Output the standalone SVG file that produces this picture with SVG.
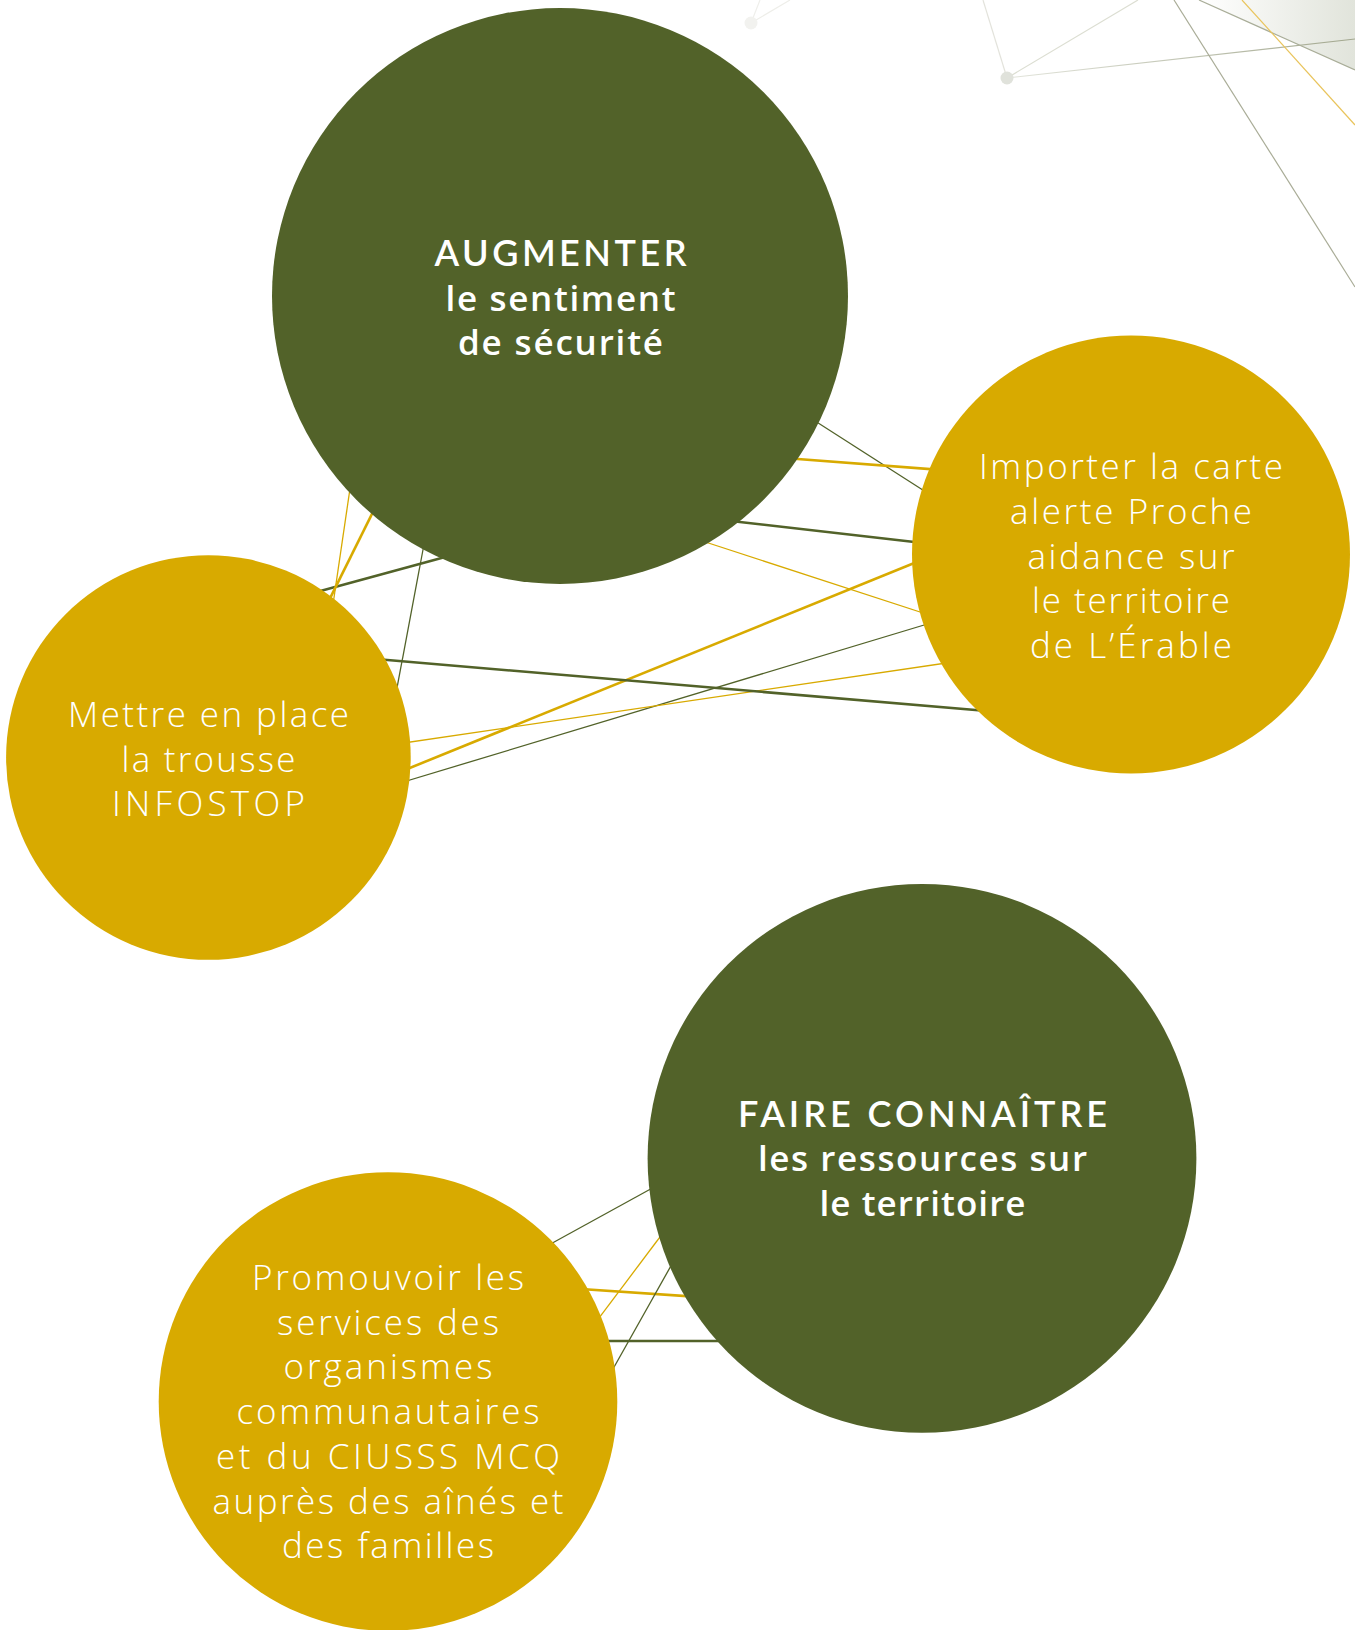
<svg xmlns="http://www.w3.org/2000/svg" width="1355" height="1630" viewBox="0 0 1355 1630">
  <defs>
    <linearGradient id="shade" x1="1199" y1="0" x2="1355" y2="0" gradientUnits="userSpaceOnUse">
      <stop offset="0" stop-color="#ffffff"/>
      <stop offset="1" stop-color="#e1e4db"/>
    </linearGradient>
    <linearGradient id="fadeLine" x1="1007" y1="0" x2="1355" y2="0" gradientUnits="userSpaceOnUse">
      <stop offset="0" stop-color="#e3e5dc"/>
      <stop offset="1" stop-color="#a2a78e"/>
    </linearGradient>
  </defs>
  <style>
    .green { fill: #526229; }
    .gold { fill: #d8aa00; }
    .dk { stroke: #526229; fill: none; }
    .gd { stroke: #d8aa00; fill: none; }
    .thick { stroke-width: 2.6; }
    .thin { stroke-width: 1.3; }
    .title { font-family: "Open Sans", Lato, "Liberation Sans", sans-serif; font-size: 35px; fill: #ffffff; text-anchor: middle; }
    .caps { font-family: Lato, "Open Sans", "Liberation Sans", sans-serif; font-weight: 600; font-size: 36px; }
    .bold { font-weight: 600; }
    .light { font-family: "Open Sans", Lato, "Liberation Sans", sans-serif; font-weight: 300; font-size: 35px; fill: #ffffff; text-anchor: middle; }
    .deco { fill: none; stroke-width: 1.2; }
  </style>

  <g id="decoration">
    <polygon points="1199,0 1355,0 1355,70" fill="url(#shade)"/>
    <line x1="1199" y1="0" x2="1355" y2="70" class="deco" stroke="#a9ad98"/>
    <line x1="751" y1="23" x2="760" y2="0" class="deco" stroke="#efefeb"/>
    <line x1="751" y1="23" x2="790" y2="0" class="deco" stroke="#eeeee9"/>
    <circle cx="751" cy="23" r="6.5" fill="#f2f2ef"/>
    <line x1="1007" y1="78" x2="983" y2="0" class="deco" stroke="#e3e3dc"/>
    <line x1="1007" y1="78" x2="1138" y2="0" class="deco" stroke="#dcded2"/>
    <line x1="1007" y1="78" x2="1355" y2="39" class="deco" stroke="url(#fadeLine)" stroke-width="1.5"/>
    <circle cx="1007" cy="78" r="6.5" fill="#e0e2db"/>
    <line x1="1174" y1="0" x2="1355" y2="287" class="deco" stroke="#a9ac97" stroke-width="1.3"/>
    <line x1="1242" y1="0" x2="1355" y2="125" class="deco" stroke="#e9c45c"/>
  </g>

  <g id="connectors">
    <line x1="801" y1="412" x2="940" y2="501" class="dk thin"/>
    <line x1="778" y1="457.5" x2="950" y2="470.6" class="gd thick"/>
    <line x1="720" y1="519.7" x2="934" y2="544.3" class="dk thick"/>
    <line x1="690" y1="537" x2="940" y2="618.5" class="gd thin"/>
    <line x1="934" y1="555" x2="390" y2="776" class="gd thick"/>
    <line x1="944" y1="619" x2="390" y2="786" class="dk thin"/>
    <line x1="960" y1="661" x2="390" y2="745" class="gd thin"/>
    <line x1="367" y1="658.3" x2="996" y2="711.7" class="dk thick"/>
    <line x1="302" y1="596" x2="458" y2="553.6" class="dk thick"/>
    <line x1="352" y1="475" x2="330.7" y2="620" class="gd thin"/>
    <line x1="380.4" y1="497" x2="326.9" y2="604.6" class="gd thick"/>
    <line x1="426.7" y1="530" x2="393.3" y2="707.7" class="dk thin"/>
    <line x1="536" y1="1252" x2="667" y2="1180" class="dk thin"/>
    <line x1="566" y1="1288" x2="705" y2="1297.4" class="gd thick"/>
    <line x1="588" y1="1332.7" x2="672" y2="1221" class="gd thin"/>
    <line x1="586" y1="1341" x2="740" y2="1341" class="dk thick"/>
    <line x1="604" y1="1385" x2="681" y2="1248" class="dk thin"/>
  </g>

  <g id="node-augmenter">
    <circle cx="560" cy="296" r="288" class="green"/>
    <text class="title caps" x="560.5" y="266" textLength="252" lengthAdjust="spacing">AUGMENTER</text>
    <text class="title bold" x="560.5" y="310.7" textLength="230" lengthAdjust="spacing">le sentiment</text>
    <text class="title bold" x="560.5" y="355.4" textLength="205" lengthAdjust="spacing">de sécurité</text>
  </g>

  <g id="node-importer">
    <circle cx="1131" cy="554.5" r="219" class="gold"/>
    <text class="light" x="1131" y="479.3" textLength="304" lengthAdjust="spacing">Importer la carte</text>
    <text class="light" x="1131" y="524" textLength="242" lengthAdjust="spacing">alerte Proche</text>
    <text class="light" x="1131" y="568.7" textLength="207" lengthAdjust="spacing">aidance sur</text>
    <text class="light" x="1131" y="613.4" textLength="198" lengthAdjust="spacing">le territoire</text>
    <text class="light" x="1131" y="658.1" textLength="202" lengthAdjust="spacing">de L’Érable</text>
  </g>

  <g id="node-infostop">
    <circle cx="208.4" cy="757.5" r="202.3" class="gold"/>
    <text class="light" x="208.5" y="727" textLength="281" lengthAdjust="spacing">Mettre en place</text>
    <text class="light" x="208.5" y="771.7" textLength="174" lengthAdjust="spacing">la trousse</text>
    <text class="light" x="208.5" y="816.4" textLength="193" lengthAdjust="spacing">INFOSTOP</text>
  </g>

  <g id="node-faire">
    <circle cx="922" cy="1158.4" r="274.4" class="green"/>
    <text class="title caps" x="922.5" y="1126.5" textLength="369" lengthAdjust="spacing">FAIRE CONNAÎTRE</text>
    <text class="title bold" x="922.5" y="1171.2" textLength="329" lengthAdjust="spacing">les ressources sur</text>
    <text class="title bold" x="922.5" y="1215.9" textLength="206" lengthAdjust="spacing">le territoire</text>
  </g>

  <g id="node-promouvoir">
    <circle cx="388" cy="1401.5" r="229.3" class="gold"/>
    <text class="light" x="388" y="1290" textLength="272" lengthAdjust="spacing">Promouvoir les</text>
    <text class="light" x="388" y="1334.7" textLength="222" lengthAdjust="spacing">services des</text>
    <text class="light" x="388" y="1379.4" textLength="209" lengthAdjust="spacing">organismes</text>
    <text class="light" x="388" y="1424.1" textLength="303" lengthAdjust="spacing">communautaires</text>
    <text class="light" x="388" y="1468.8" textLength="344" lengthAdjust="spacing">et du CIUSSS MCQ</text>
    <text class="light" x="388" y="1513.5" textLength="351" lengthAdjust="spacing">auprès des aînés et</text>
    <text class="light" x="388" y="1558.2" textLength="212" lengthAdjust="spacing">des familles</text>
  </g>
</svg>
